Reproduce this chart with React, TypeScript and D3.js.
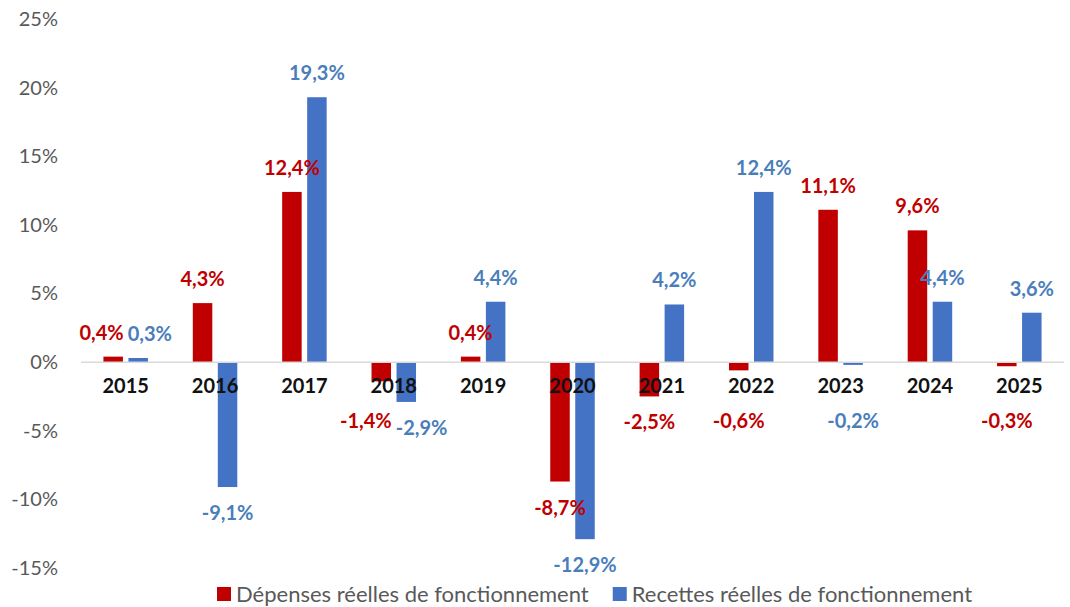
import React, { useEffect, useRef } from 'react';
import { select, scaleBand, scaleLinear, axisLeft } from 'd3';

const years = ['2015', '2016', '2017', '2018', '2019', '2020', '2021', '2022', '2023', '2024', '2025'];
const depenses = [0.4, 4.3, 12.4, -1.4, 0.4, -8.7, -2.5, -0.6, 11.1, 9.6, -0.3];
const recettes = [0.3, -9.1, 19.3, -2.9, 4.4, -12.9, 4.2, 12.4, -0.2, 4.4, 3.6];
const yTicks = [-15, -10, -5, 0, 5, 10, 15, 20, 25];
const seriesNames = ['Dépenses réelles de fonctionnement', 'Recettes réelles de fonctionnement'];

const RED = '#C00000';
const BLUE = '#4472C4';
const BLUE_LABEL = '#4A7EBB';
const FONT = 'Lato, "Open Sans", sans-serif';

const fmt = (v: number) => v.toFixed(1).replace('.', ',') + '%';

const W = 1070;
const H = 607;

const Chart = () => {
  const svgRef = useRef<SVGSVGElement>(null);

  useEffect(() => {
    const svg = select(svgRef.current);
    svg.selectAll('*').remove();

    // scales
    const x = scaleBand().domain(years).range([81, 1064]);
    const y = scaleLinear().domain([-15, 25]).range([568, 19]);
    const zero = y(0);

    // y axis (labels only)
    const yAxis = axisLeft(y)
      .tickValues(yTicks)
      .tickSize(0)
      .tickPadding(0)
      .tickFormat((d) => `${d}%`);
    const gy = svg.append('g').attr('transform', 'translate(58,0)').call(yAxis);
    gy.select('.domain').remove();
    gy.selectAll('text')
      .attr('font-family', FONT)
      .attr('font-size', 20)
      .attr('fill', '#595959');

    // bars
    const series = [
      { values: depenses, color: RED, label: RED, dx: -12.5 },
      { values: recettes, color: BLUE, label: BLUE_LABEL, dx: 12.5 },
    ];
    const bw = 19.5;

    series.forEach((s) => {
      svg
        .append('g')
        .selectAll('rect')
        .data(s.values)
        .join('rect')
        .attr('x', (d, i) => x(years[i])! + x.bandwidth() / 2 + s.dx - bw / 2)
        .attr('y', (d) => Math.min(y(d), zero))
        .attr('width', bw)
        .attr('height', (d) => Math.abs(y(d) - zero))
        .attr('fill', s.color);
    });

    // zero line
    svg
      .append('line')
      .attr('x1', 81)
      .attr('x2', 1064)
      .attr('y1', zero)
      .attr('y2', zero)
      .attr('stroke', '#D9D9D9')
      .attr('stroke-width', 1.5);

    // year labels
    svg
      .append('g')
      .selectAll('text')
      .data(years)
      .join('text')
      .attr('x', (d) => x(d)! + x.bandwidth() / 2)
      .attr('y', zero + 31)
      .attr('text-anchor', 'middle')
      .attr('font-family', FONT)
      .attr('font-size', 20)
      .attr('font-weight', 'bold')
      .attr('fill', '#111')
      .text((d) => d);

    // data labels
    const labelGroups = series.map((s) =>
      svg
        .append('g')
        .selectAll('text')
        .data(s.values)
        .join('text')
        .attr('x', (d, i) => x(years[i])! + x.bandwidth() / 2 + s.dx)
        .attr('y', (d) => (d >= 0 ? y(d) - 17 : Math.max(y(d) + 33, zero + 66)))
        .attr('text-anchor', 'middle')
        .attr('font-family', FONT)
        .attr('font-size', 20)
        .attr('font-weight', 'bold')
        .attr('fill', s.label)
        .text((d) => fmt(d))
    );

    // push apart labels of the same year when they collide
    const redNodes = labelGroups[0].nodes() as SVGTextElement[];
    const blueNodes = labelGroups[1].nodes() as SVGTextElement[];
    years.forEach((yr, i) => {
      const a = redNodes[i];
      const b = blueNodes[i];
      const ya = +a.getAttribute('y')!;
      const yb = +b.getAttribute('y')!;
      if (Math.abs(ya - yb) > 20) return;
      const xa = +a.getAttribute('x')!;
      const xb = +b.getAttribute('x')!;
      const need = (a.getComputedTextLength() + b.getComputedTextLength()) / 2 + 4;
      const gap = xb - xa;
      if (gap < need) {
        const shift = (need - gap) / 2;
        a.setAttribute('x', String(xa - shift));
        b.setAttribute('x', String(xb + shift));
      }
    });

    // legend
    const legendColors = [RED, BLUE];
    const lg = svg.append('g');
    let lx = 217;
    seriesNames.forEach((name, i) => {
      lg.append('rect')
        .attr('x', lx)
        .attr('y', 587)
        .attr('width', 14)
        .attr('height', 14)
        .attr('fill', legendColors[i]);
      const t = lg
        .append('text')
        .attr('x', lx + 19)
        .attr('y', 602)
        .attr('font-family', FONT)
        .attr('font-size', 22)
        .attr('fill', '#595959')
        .text(name);
      lx += 19 + (t.node() as SVGTextElement).getComputedTextLength() + 24;
    });
  }, []);

  return <svg ref={svgRef} width={W} height={H} style={{ display: 'block' }}></svg>;
};

export default function App() {
  useEffect(() => {
    document.body.style.margin = '0';
  }, []);
  return <Chart />;
}
